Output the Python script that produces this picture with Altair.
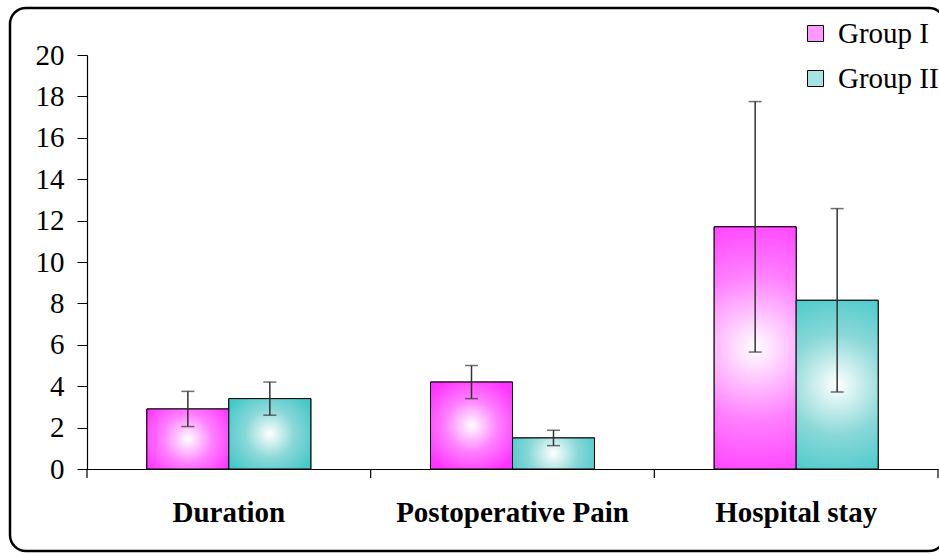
import altair as alt
import pandas as pd

categories = ["Duration", "Postoperative Pain", "Hospital stay"]
groups = ["Group I", "Group II"]
g1_mean = [2.9, 4.2, 11.7]
g1_sd = [0.85, 0.8, 6.05]
g2_mean = [3.4, 1.5, 8.15]
g2_sd = [0.8, 0.37, 4.43]
y_ticks = list(range(0, 21, 2))

pink_edge = "#ff33ff"
teal_edge = "#44c8c8"

rows = []
for c, m, s in zip(categories, g1_mean, g1_sd):
    rows.append({"cat": c, "group": groups[0], "mean": m, "lo": m - s, "hi": m + s})
for c, m, s in zip(categories, g2_mean, g2_sd):
    rows.append({"cat": c, "group": groups[1], "mean": m, "lo": m - s, "hi": m + s})
df = pd.DataFrame(rows)

W, H = 851, 414
FONT = "Liberation Serif"
FS = 29

def grad(edge, mid):
    return alt.RadialGradient(
        gradient="radial",
        stops=[alt.GradientStop(offset=0, color="#ffffff"),
               alt.GradientStop(offset=0.5, color=mid),
               alt.GradientStop(offset=1, color=edge)],
        x1=0.5, y1=0.5, x2=0.5, y2=0.5, r1=0, r2=0.6)

xenc = alt.X("cat:N", sort=categories,
             scale=alt.Scale(paddingInner=0, paddingOuter=0),
             axis=alt.Axis(title=None, ticks=False, tickSize=0, labelAngle=0,
                           labelFont=FONT, labelFontSize=FS, labelFontWeight="bold",
                           labelColor="black", labelPadding=29, labelLimit=400,
                           domainColor="black", domainWidth=1.2))
xoff = alt.XOffset("group:N", sort=groups,
                   scale=alt.Scale(paddingOuter=0.73, paddingInner=0))
yscale = alt.Scale(domain=[0, 20], nice=False)
yaxis = alt.Axis(title=None, values=y_ticks, grid=False, tickSize=10,
                 tickColor="black", domainColor="black", domainWidth=1.2,
                 labelFont=FONT, labelFontSize=FS, labelColor="black",
                 labelPadding=13)

base = alt.Chart(df).encode(x=xenc, xOffset=xoff)

bars = base.mark_bar(stroke="black", strokeWidth=1).encode(
    y=alt.Y("mean:Q", scale=yscale, axis=yaxis),
    color=alt.Color("group:N", sort=groups,
                    scale=alt.Scale(domain=groups, range=["#ff99ff", "#a6e3e3"]),
                    legend=alt.Legend(title=None, orient="none", legendX=714, legendY=-36,
                                      symbolType="square", symbolSize=256,
                                      symbolStrokeColor="black", symbolStrokeWidth=1,
                                      symbolOpacity=1,
                                      labelFont=FONT, labelFontSize=FS, labelColor="black",
                                      rowPadding=15, labelOffset=8, padding=0,
                                      labelLimit=300)),
)

bars_g1 = base.transform_filter(alt.datum.group == groups[0]).mark_bar(
    fill=grad(pink_edge, "#ff80ff"), stroke="black", strokeWidth=1).encode(y="mean:Q")
bars_g2 = base.transform_filter(alt.datum.group == groups[1]).mark_bar(
    fill=grad(teal_edge, "#8ad8d8"), stroke="black", strokeWidth=1).encode(y="mean:Q")

err = base.mark_rule(color="#333333", strokeWidth=1.5).encode(y="lo:Q", y2="hi:Q")
cap_lo = base.mark_tick(color="#333333", thickness=1.5, size=13).encode(y="lo:Q")
cap_hi = base.mark_tick(color="#333333", thickness=1.5, size=13).encode(y="hi:Q")

xticks = alt.Chart(pd.DataFrame({"cat": categories})).mark_rule(
    color="black", strokeWidth=1.2).encode(
    x=alt.X("cat:N", sort=categories, bandPosition=0),
    y=alt.value(H), y2=alt.value(H + 9))
xtick_end = alt.Chart(alt.Data(values=[{}])).mark_rule(
    color="black", strokeWidth=1.2).encode(
    x=alt.value(W), y=alt.value(H), y2=alt.value(H + 9))

frame = alt.Chart(alt.Data(values=[{}])).mark_rect(
    fill="transparent", stroke="black", strokeWidth=2.5, cornerRadius=16).encode(
    x=alt.value(-77), x2=alt.value(858), y=alt.value(-47), y2=alt.value(496))

chart = alt.layer(frame, bars, bars_g1, bars_g2, err, cap_lo, cap_hi, xticks, xtick_end).properties(
    width=W, height=H,
    padding={"left": 87, "top": 55, "right": 1, "bottom": 85},
    autosize=alt.AutoSizeParams(type="none"),
    background="white",
).configure_view(stroke=None)

chart.save("out.html", embed_options={"renderer": "svg", "actions": False})
